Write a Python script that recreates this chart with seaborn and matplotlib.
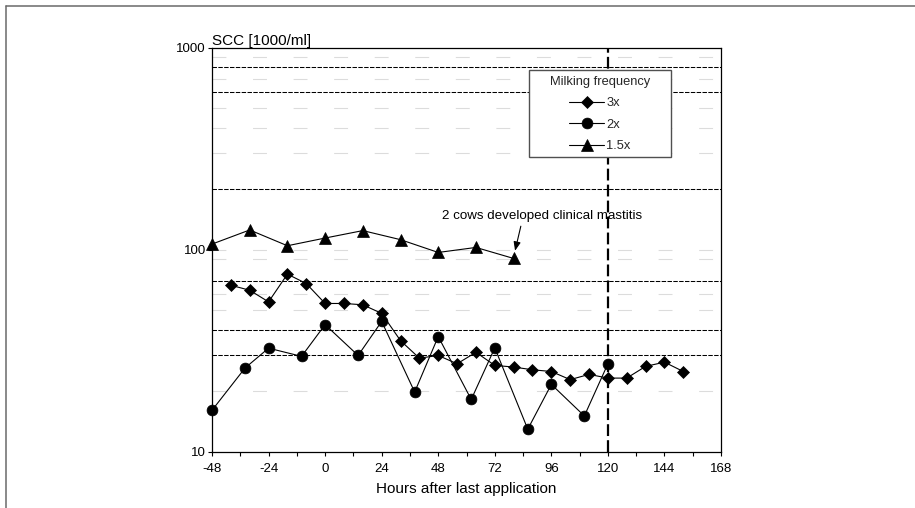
import matplotlib
matplotlib.use("Agg")
import matplotlib.pyplot as plt
import matplotlib.patches as mpatches
from matplotlib.lines import Line2D
from matplotlib.ticker import FixedLocator, NullLocator, MultipleLocator
import pandas as pd
import seaborn as sns

# Somatic cell count by milking frequency
hours_3x = [-40, -32, -24, -16, -8, 0, 8, 16, 24, 32, 40, 48, 56, 64, 72,
            80, 88, 96, 104, 112, 120, 128, 136, 144, 152]
scc_3x = [66.6, 62.9, 55.1, 75.6, 67.9, 54.1, 54.1, 53.3, 48.3, 35.4, 29.0,
          29.9, 27.2, 31.0, 26.7, 26.2, 25.4, 24.9, 22.7, 24.1, 23.1, 23.1,
          26.4, 27.7, 24.9]

hours_2x = [-48, -34, -24, -10, 0, 14, 24, 38, 48, 62, 72, 86, 96, 110, 120]
scc_2x = [16.0, 25.9, 32.5, 29.6, 42.5, 29.9, 44.1, 19.7, 37.1, 18.1, 32.6,
          12.9, 21.5, 15.0, 27.2]

hours_15x = [-48, -32, -16, 0, 16, 32, 48, 64, 80]
scc_15x = [106.5, 125.1, 104.5, 114.1, 124.2, 112.0, 96.8, 102.5, 90.4]

series_labels = ["3x", "2x", "1.5x"]
x_ticks = [-48, -24, 0, 24, 48, 72, 96, 120, 144, 168]
y_ticks = [10, 100, 1000]

sns.set_theme(style="white")
plt.rcParams["font.family"] = ["Liberation Sans", "DejaVu Sans"]
plt.rcParams["axes.unicode_minus"] = False
plt.rcParams["lines.scale_dashes"] = False

fig = plt.figure(figsize=(9.15, 5.08), dpi=100)
ax = fig.add_axes([0.2317, 0.1112, 0.5563, 0.7949])
ax.set_facecolor("white")

# outer frame (top and left edges)
fig.add_artist(Line2D([0.0066, 1.0], [0.988, 0.988], transform=fig.transFigure,
                      color="#6a6a6a", lw=1.1))
fig.add_artist(Line2D([0.0066, 0.0066], [0.0, 0.988], transform=fig.transFigure,
                      color="#6a6a6a", lw=1.1))

ax.set_yscale("log")
ax.set_ylim(10, 1000)
ax.set_xlim(-48, 168)

# grid lines
for v in [900, 700, 500, 400, 300, 100, 90, 60, 50, 20]:
    ax.axhline(v, color="#dcdcdc", lw=0.8, ls=(0, (10, 19.2)), zorder=1)
for v in [800, 600, 200, 70, 40, 30]:
    ax.axhline(v, color="black", lw=0.75, ls=(0, (3.2, 1.0)), zorder=1.2)

# end of treatment observation marker
ax.axvline(120, color="black", lw=1.6, ls=(0, (8.5, 3.0)), zorder=1.5)

frames = [
    pd.DataFrame({"hours": hours_3x, "scc": scc_3x}),
    pd.DataFrame({"hours": hours_2x, "scc": scc_2x}),
    pd.DataFrame({"hours": hours_15x, "scc": scc_15x}),
]
markers = ["D", "o", "^"]
sizes = [6.4, 7.8, 8.0]
for df, lab, mk, ms in zip(frames, series_labels, markers, sizes):
    sns.lineplot(data=df, x="hours", y="scc", ax=ax, color="black", lw=0.8,
                 marker=mk, markersize=ms, markeredgecolor="black",
                 markerfacecolor="black", markeredgewidth=0.5,
                 label=lab, clip_on=False, zorder=3, legend=True)

ax.annotate("2 cows developed clinical mastitis", xy=(80.6, 98.7),
            xytext=(92.0, 147.4), ha="center", va="center", fontsize=9.6,
            color="black",
            arrowprops=dict(arrowstyle="-|>,head_length=0.55,head_width=0.22",
                            color="black", lw=0.8, shrinkA=1, shrinkB=0,
                            relpos=(0.4, 0.0)))

# axes styling
for s in ax.spines.values():
    s.set_visible(True)
    s.set_color("black")
    s.set_linewidth(0.9)

ax.xaxis.set_major_locator(FixedLocator(x_ticks))
ax.set_xticklabels([str(t) for t in x_ticks])
ax.xaxis.set_minor_locator(MultipleLocator(12))
ax.yaxis.set_major_locator(FixedLocator(y_ticks))
ax.set_yticklabels([str(t) for t in y_ticks])
ax.yaxis.set_minor_locator(NullLocator())

ax.tick_params(axis="x", which="both", direction="out", length=3, width=0.8,
               colors="black", labelsize=9.5, pad=5.5, bottom=True)
ax.tick_params(axis="y", which="major", direction="out", length=3, width=0.8,
               colors="black", labelsize=9.5, pad=1.5, left=True)

ax.set_xlabel("Hours after last application", fontsize=11, color="black",
              labelpad=5)
ax.set_ylabel("")
ax.set_title("SCC [1000/ml]", loc="left", pad=2, fontsize=11, color="black")

# legend box
ax.add_patch(mpatches.Rectangle((0.6228, 0.7288), 0.279, 0.217,
                                transform=ax.transAxes, facecolor="white",
                                edgecolor="#505050", lw=1.0, zorder=4))
leg = ax.legend(title="Milking frequency", loc="upper center",
                bbox_to_anchor=(0.7623, 0.9458), borderaxespad=0,
                frameon=False, fontsize=9.3, title_fontsize=9.3,
                borderpad=0.5, labelspacing=0.72, handlelength=2.7,
                handletextpad=0.15)
leg.set_zorder(5)

fig.savefig("out.png", dpi=100, facecolor="white")
